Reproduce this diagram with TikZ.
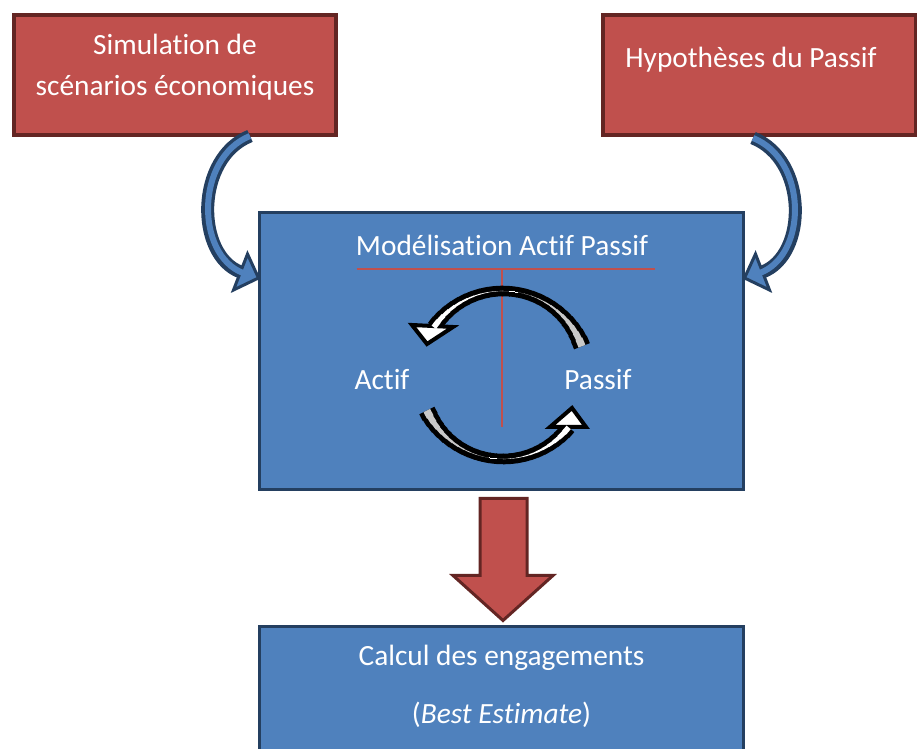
\documentclass[tikz,border=0pt]{standalone}
\usepackage{fontspec}
\setmainfont[Ligatures=NoCommon]{Carlito}
\usetikzlibrary{calc,positioning}
\definecolor{boxred}{HTML}{C0504D}
\definecolor{edgered}{HTML}{632523}
\definecolor{boxblue}{HTML}{4F81BD}
\definecolor{edgeblue}{HTML}{243F60}
\definecolor{loopgray}{HTML}{C8C8C8}
\tikzset{
  redbox/.style={draw=edgered, fill=boxred, line width=3pt, outer sep=0pt, minimum height=90pt},
  bluebox/.style={draw=edgeblue, fill=boxblue, line width=2.25pt, outer sep=0pt},
  boxtext/.style={text=white, font=\fontsize{22}{30.75}\selectfont, align=center, inner sep=0pt},
  bendline/.style={edgeblue, line width=9.75pt},
  bendfill/.style={boxblue, line width=4.5pt},
  bendhead/.style={draw=edgeblue, fill=boxblue, line width=2.25pt, line join=miter},
  loophead/.style={draw=black, fill=white, line width=3pt, line join=miter},
  splitline/.style={boxred, line width=0.9pt}
}
\begin{document}
\begin{tikzpicture}[x=0.75pt, y=0.75pt]
  \useasboundingbox (0,0) rectangle (917,749);

  % input boxes
  \node[redbox, minimum width=241.5pt] (sim) at (175,674) {};
  \node[boxtext] (simT) at ($(sim.center)+(0,8)$) {Simulation de\\sc\'enarios \'economiques};
  \node[redbox, minimum width=234.75pt] (hyp) at (759.5,674) {};
  \node[boxtext] (hypT) at ($(hyp.center)+(-8.5,15)$) {Hypoth\`eses du Passif};

  % ALM model
  \node[bluebox, minimum width=363pt, minimum height=207.75pt] (model) at (501.5,398) {};
  \node[bluebox, minimum width=363pt, minimum height=107pt] (calc) at (501.5,51.25) {};

  \begin{scope}[shift={(model.center)}]
    \node[boxtext] (modelT) at (0.5,106) {Mod\'elisation Actif Passif};
    \draw[splitline] (-145,82) -- (153,82);
    \draw[splitline] (0.5,82) -- (0.5,-76);
    \node[boxtext] (actif) at (-119.5,-29) {Actif};
    \node[boxtext] (passif) at (96.5,-29) {Passif};
    \coordinate (hub) at (1.5,-24);

    % the two loops, band tapering from tail to middle
    \foreach \st/\en in {20/145, 205/321} {
      \foreach \k in {0,...,24} {
        \pgfmathsetmacro\s{(\k+0.5)/25}
        \pgfmathsetmacro\ta{\st+\k*(\en-\st)/25}
        \pgfmathsetmacro\tb{\ta+(\en-\st)/25+0.4}
        \pgfmathsetmacro\wb{0.75*(10.5+(\s<0.5 ? 7*(1-2*\s)^2 : 4.5*(2*\s-1)^2))}
        \draw[black, line width=\wb pt] (hub) ++(\ta:84) arc[start angle=\ta, end angle=\tb, radius=84];
      }
    }
    \filldraw[loophead] (-74.5,7) -- (-89.5,26) -- (-48.5,24) -- cycle;
    \filldraw[loophead] (70.5,-57) -- (84.5,-76) -- (48.5,-76) -- cycle;
    \foreach \st/\en in {20/145, 205/321} {
      \foreach \k in {0,...,24} {
        \pgfmathsetmacro\s{(\k+0.5)/25}
        \pgfmathsetmacro\ta{\st+\k*(\en-\st)/25}
        \pgfmathsetmacro\tb{\ta+(\en-\st)/25+0.4}
        \pgfmathsetmacro\wi{0.75*(\s<0.5 ? 8*(1-2*\s)^2 : 6*(2*\s-1)^2)}
        \pgfmathsetmacro\mix{\s<0.5 ? 100 : 0}
        \draw[loopgray!\mix!white, line width=\wi pt] (hub) ++(\ta:84) arc[start angle=\ta, end angle=\tb, radius=84];
      }
    }
  \end{scope}

  % bent arrows into the model
  \coordinate (la0) at ($(sim.south)+(75,-1)$);
  \coordinate (lat) at ($(model.west)+(-1,73)$);
  \coordinate (la1) at ($(lat)+(-18,6)$);
  \draw[bendline] (la0) .. controls +(-55,-22) and +(-45,17) .. (la1);
  \filldraw[bendhead] (lat) -- ($(lat)+(-11,24)$) -- ($(lat)+(-25,-12)$) -- cycle;
  \draw[bendfill, shorten >=-2pt] (la0) .. controls +(-55,-22) and +(-45,17) .. (la1);

  \coordinate (ra0) at ($(model.east)+(9.5,213)$);
  \coordinate (rat) at ($(model.east)+(1,73)$);
  \coordinate (ra1) at ($(rat)+(18,6)$);
  \draw[bendline] (ra0) .. controls +(55,-22) and +(45,17) .. (ra1);
  \filldraw[bendhead] (rat) -- ($(rat)+(11,24)$) -- ($(rat)+(25,-12)$) -- cycle;
  \draw[bendfill, shorten >=-2pt] (ra0) .. controls +(55,-22) and +(45,17) .. (ra1);

  % result arrow
  \begin{scope}[shift={(model.south)}]
    \filldraw[draw=edgered, fill=boxred, line width=2.25pt, line join=miter]
      (-21.5,-9) -- (25.5,-9) -- (25.5,-86) -- (51.5,-86) -- (1.5,-131)
      -- (-48.5,-86) -- (-21.5,-86) -- cycle;
  \end{scope}

  \node[boxtext] (calcA) at ($(calc.center)+(0,40)$) {Calcul des engagements};
  \node[boxtext] (calcB) at ($(calc.center)+(0,-17)$) {(\textit{Best Estimate})};
\end{tikzpicture}
\end{document}
